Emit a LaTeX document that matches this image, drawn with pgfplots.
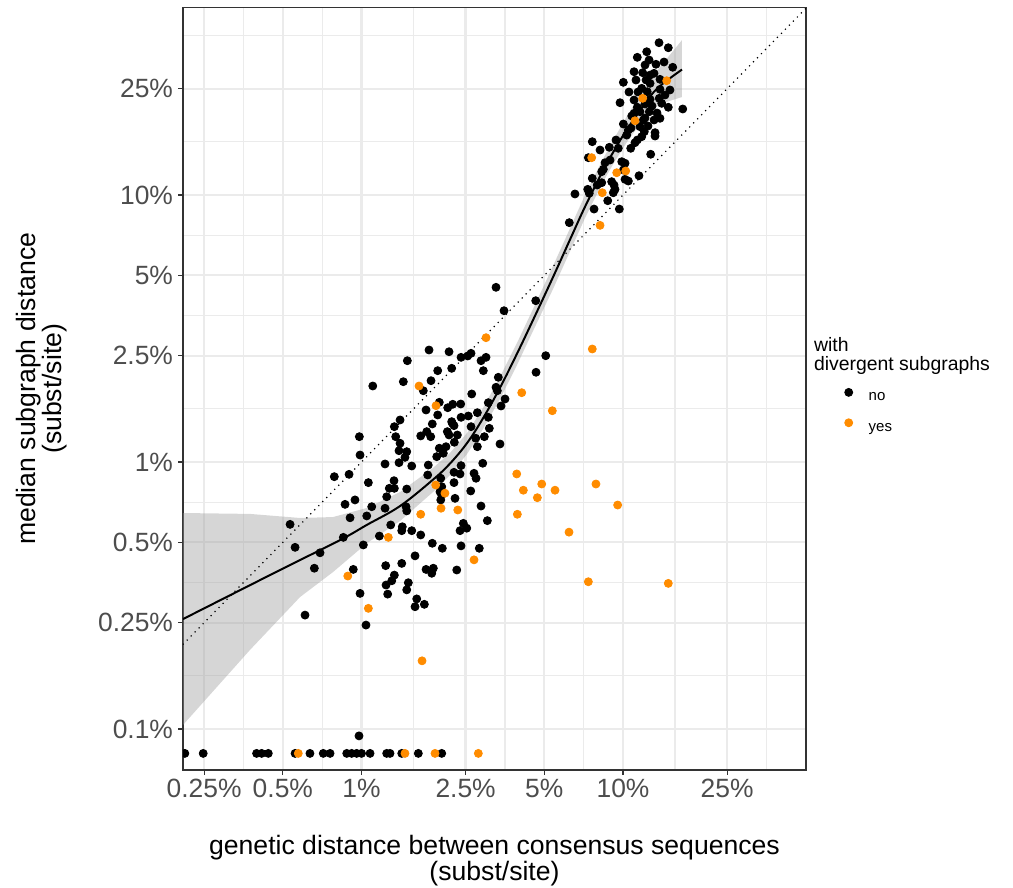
\documentclass[border=0pt]{standalone}
\usepackage{fontspec}
\setmainfont{Liberation Sans}
\usepackage{pgfplots}
\pgfplotsset{compat=1.18}
\definecolor{gridgrey}{HTML}{EBEBEB}
\definecolor{bordergrey}{HTML}{333333}
\definecolor{labgrey}{HTML}{4D4D4D}
\definecolor{bandgrey}{HTML}{999999}
\definecolor{divorange}{HTML}{FF8C00}
\pgfplotsset{dotlegend/.style={legend image code/.code={\draw[##1] plot coordinates {(0pt,2.2pt)};}}}

% subgraphs without divergence (x: consensus distance %, y: median subgraph distance %)
\pgfplotstableread{
x y
0.211 0.081
0.248 0.081
0.397 0.081
0.415 0.081
0.440 0.081
0.557 0.081
0.635 0.081
0.714 0.081
0.758 0.081
0.878 0.081
0.917 0.081
0.958 0.081
1.000 0.081
1.078 0.081
1.248 0.081
1.285 0.081
1.425 0.081
1.649 0.081
2.026 0.081
0.978 0.0942
0.533 0.584
0.557 0.479
0.694 0.457
0.660 0.400
0.608 0.267
0.852 0.522
0.865 0.694
0.944 0.721
0.904 0.618
1.047 0.628
1.094 0.680
1.016 0.489
0.930 0.396
0.987 0.322
1.040 0.245
1.170 0.528
1.230 0.983
1.391 0.994
1.556 0.966
1.800 0.974
0.787 0.881
0.896 0.899
1.062 0.837
1.331 0.851
1.277 0.797
1.335 0.797
1.489 0.792
1.248 0.741
1.791 0.894
1.230 0.671
1.480 0.680
1.489 0.656
1.293 0.581
1.432 0.572
1.425 0.553
1.556 0.553
1.684 0.533
1.602 0.445
1.237 0.409
1.425 0.417
1.765 0.396
1.335 0.377
1.305 0.359
1.241 0.346
1.510 0.353
1.489 0.332
1.259 0.320
1.626 0.307
1.602 0.287
1.739 0.293
1.865 1.388
2.224 1.396
2.258 1.368
2.623 1.356
3.081 1.337
1.776 1.299
1.684 1.252
1.839 1.244
2.129 1.299
2.161 1.262
2.325 1.262
2.734 1.227
2.949 1.244
2.264 1.185
2.773 1.141
3.385 1.168
1.404 1.175
1.984 1.126
2.104 1.141
2.055 1.078
1.939 1.047
1.489 1.093
1.466 1.041
2.402 0.969
2.908 0.989
2.258 0.915
2.381 0.902
2.693 0.907
2.741 0.869
2.009 0.869
2.258 0.837
2.026 0.808
1.996 0.774
2.026 0.752
2.009 0.721
2.278 0.731
2.616 0.779
2.864 0.684
3.028 0.603
2.451 0.589
2.381 0.553
2.526 0.565
1.865 0.496
2.037 0.475
2.402 0.485
2.821 0.475
1.882 0.400
1.856 0.383
2.313 0.394
3.268 4.511
4.637 4.019
3.507 3.687
1.812 2.627
2.161 2.588
2.402 2.466
2.547 2.495
2.623 2.553
2.864 2.395
2.993 2.466
5.064 2.501
1.497 2.395
1.956 2.198
2.212 2.243
2.923 2.198
4.649 2.168
1.445 1.999
1.844 2.016
1.723 1.849
3.335 2.076
3.268 1.905
3.306 1.849
2.639 1.798
1.984 1.673
2.136 1.597
2.233 1.645
2.395 1.649
3.538 1.722
3.416 1.621
3.054 1.668
1.765 1.566
2.773 1.530
2.402 1.470
2.561 1.487
1.956 1.500
3.054 1.470
2.212 1.416
1.404 1.437
1.104 1.926
1.335 1.356
0.981 1.244
1.351 1.244
1.391 1.102
0.987 1.062
10.03 18.45
13.14 19.10
11.61 18.03
12.06 17.27
11.79 16.54
13.26 17.12
13.26 16.63
10.33 16.77
7.63 15.84
8.863 15.09
9.59 14.96
10.70 14.96
11.11 15.70
11.34 16.07
8.17 14.74
7.37 13.80
12.76 14.21
8.92 13.52
8.535 13.21
9.89 13.33
10.18 13.15
8.41 12.48
8.29 12.23
10.03 12.41
11.51 11.81
7.63 11.55
10.18 11.45
10.48 11.28
8.29 11.12
9.05 11.22
9.24 10.90
7.97 10.90
7.33 10.50
6.55 10.09
7.43 10.15
9.32 10.50
9.18 10.20
8.74 9.52
7.75 8.86
9.68 8.86
6.23 7.88
13.73 37.19
14.90 35.62
12.32 34.41
11.34 32.79
12.14 30.69
13.37 30.88
15.49 30.09
11.02 28.96
11.89 28.72
12.69 28.14
13.14 28.56
10.03 26.43
11.21 26.96
12.25 26.96
12.69 26.20
13.85 27.12
11.79 25.09
12.38 24.37
13.85 24.88
15.12 24.74
14.47 23.69
9.74 22.17
12.14 21.92
12.69 22.82
13.76 23.02
14.06 22.05
14.90 21.31
16.92 21.00
11.34 21.31
11.61 20.51
12.61 20.51
11.02 20.23
10.80 19.77
11.96 19.10
13.85 19.38
10.48 17.52
10.54 24.31
11.02 22.69
12.91 21.54
13.49 20.28
12.14 19.43
11.41 24.31
14.35 31.49
12.58 32.04
10.73 17.82
12.46 18.13
9.40 16.07
}\nodiv

% subgraphs with divergence
\pgfplotstableread{
x y
0.573 0.081
1.466 0.081
1.910 0.081
2.797 0.081
0.886 0.374
1.062 0.283
1.684 0.637
1.266 0.522
1.922 0.820
2.085 0.764
2.014 0.671
2.334 0.661
2.693 0.430
2.993 2.921
1.659 1.926
4.099 1.818
1.927 1.625
5.366 1.556
7.63 2.650
3.923 0.902
4.888 0.827
4.157 0.784
5.495 0.784
4.703 0.735
7.88 0.827
9.54 0.690
3.944 0.637
6.216 0.546
7.37 0.356
14.9 0.351
1.704 0.180
11.11 18.98
7.59 13.80
9.46 12.12
10.24 12.30
8.33 10.20
8.17 7.70
11.89 23.02
14.69 26.80
}\withdiv

\begin{document}
\begin{tikzpicture}[x=1pt,y=1pt]
\useasboundingbox (0,0) rectangle (506.5,444);
\begin{axis}[
  at={(91.5pt,59pt)}, anchor=south west,
  scale only axis, width=311.5pt, height=381.25pt,
  xmode=log, ymode=log,
  xmin=0.2076, xmax=50.1, ymin=0.0702, ymax=50.4,
  xtick={0.25,0.5,1,2.5,5,10,25},
  xticklabels={0.25\%,0.5\%,1\%,2.5\%,5\%,10\%,25\%},
  ytick={0.1,0.25,0.5,1,2.5,5,10,25},
  yticklabels={0.1\%,0.25\%,0.5\%,1\%,2.5\%,5\%,10\%,25\%},
  minor xtick={0.3536,0.7071,1.581,3.536,7.071,15.81,35.36},
  minor ytick={0.1581,0.3536,0.7071,1.581,3.536,7.071,15.81,39.53},
  grid=both,
  major grid style={draw=gridgrey, line width=1.1pt},
  minor grid style={draw=gridgrey, line width=0.55pt},
  tick pos=left, tick align=outside,
  major tick length=2.5pt, minor tick length=0pt,
  every tick/.style={draw=bordergrey, line width=0.55pt},
  axis line style={draw=bordergrey, line width=0.65pt},
  tick label style={font=\fontsize{13.2}{15}\selectfont, text=labgrey},
  xticklabel style={yshift=1.5pt},
  yticklabel style={xshift=1pt},
  clip marker paths=true,
  legend style={at={(axis description cs:1.0615,0.501)}, anchor=north west,
    draw=none, fill=none, inner sep=0pt, row sep=7.5pt, column sep=8pt,
    nodes={inner sep=0pt, text height=5.5pt, text depth=1.5pt},
    font=\fontsize{7.5}{9}\selectfont},
  legend cell align=left,
]
% loess confidence band
\addplot[draw=none, fill=bandgrey, fill opacity=0.4, forget plot] coordinates {
 (0.2076,0.644) (0.375,0.639) (0.582,0.617) (0.778,0.622) (1.050,0.673)
 (1.404,0.772) (1.877,0.950) (2.180,1.081) (2.532,1.284) (2.915,1.593)
 (3.385,2.082) (3.932,2.791) (4.527,3.741) (5.40,5.423) (6.38,7.789)
 (7.157,10.0) (8.38,13.64) (9.32,16.49) (10.36,19.77) (12.36,26.05)
 (13.85,30.16) (16.81,38.06)
 (16.81,23.28) (13.85,21.92) (12.36,20.11) (10.36,15.80) (9.32,13.41)
 (8.38,11.19) (7.157,8.20) (6.38,6.387) (5.40,4.445) (4.527,3.094)
 (3.932,2.308) (3.385,1.722) (2.915,1.329) (2.532,1.071) (2.180,0.894)
 (1.877,0.772) (1.404,0.601) (1.050,0.497) (0.778,0.387) (0.582,0.312)
 (0.375,0.198) (0.2076,0.1035)
};
% identity line
\addplot[black, line width=0.6pt, dash pattern=on 0.6pt off 2.25pt, forget plot]
  coordinates {(0.2,0.2) (50.4,50.4)};
% loess fit
\addplot[black, line width=1pt, smooth, tension=0.6, forget plot] coordinates {
 (0.2076,0.258) (0.488,0.394) (0.828,0.510) (1.047,0.581) (1.404,0.684)
 (1.877,0.859) (2.180,0.987) (2.532,1.177) (2.915,1.458) (3.385,1.898)
 (3.932,2.545) (4.527,3.401) (5.40,4.927) (6.38,7.067) (7.157,9.04)
 (8.38,12.33) (9.32,14.86) (10.36,17.62) (12.36,22.62) (13.85,25.60)
 (16.81,29.51)
};
\addplot[only marks, mark=*, mark size=2pt, color=black, mark options={fill=black}, dotlegend]
  table {\nodiv};
\addlegendentry{no}
\addplot[only marks, mark=*, mark size=2pt, color=divorange, mark options={fill=divorange}, dotlegend]
  table {\withdiv};
\addlegendentry{yes}
\end{axis}
% axis titles
\node[anchor=base, font=\fontsize{13.3}{15}\selectfont] at (247.25,16.5) {genetic distance between consensus sequences};
\node[anchor=base, font=\fontsize{13.3}{15}\selectfont] at (247.25,3.5) {(subst/site)};
\node[anchor=base, rotate=90, font=\fontsize{13.3}{15}\selectfont] at (17.5,249.6) {median subgraph distance};
\node[anchor=base, rotate=90, font=\fontsize{13.3}{15}\selectfont] at (31,249.6) {(subst/site)};
% legend title
\node[anchor=base west, font=\fontsize{9.7}{11.5}\selectfont] at (403.5,268.15) {with};
\node[anchor=base west, font=\fontsize{9.7}{11.5}\selectfont] at (403.5,258.65) {divergent subgraphs};
\end{tikzpicture}
\end{document}
